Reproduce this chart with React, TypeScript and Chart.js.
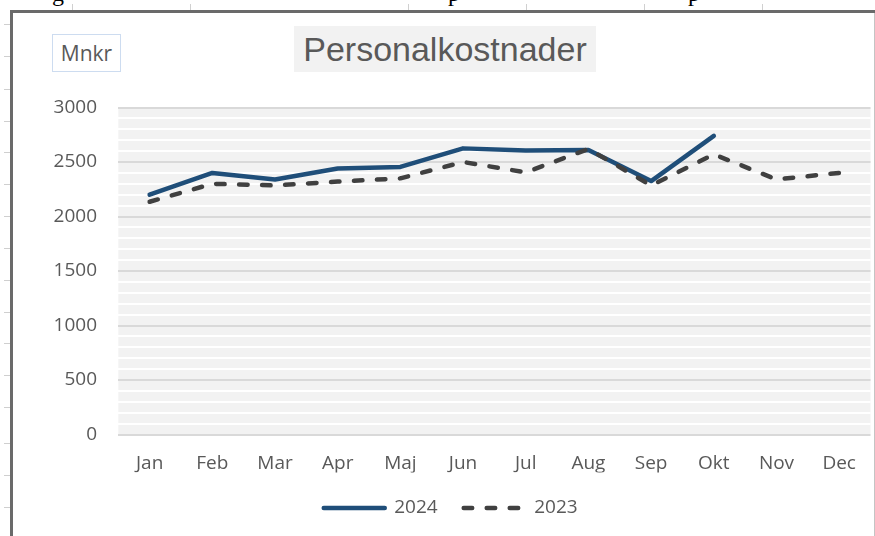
import React, { useEffect, useRef } from "react";
import { Chart, registerables } from "chart.js";

Chart.register(...registerables);

const months = ["Jan", "Feb", "Mar", "Apr", "Maj", "Jun", "Jul", "Aug", "Sep", "Okt", "Nov", "Dec"];
const values2024 = [2200, 2400, 2340, 2440, 2455, 2625, 2605, 2610, 2325, 2740, null, null];
const values2023 = [2135, 2300, 2285, 2320, 2350, 2500, 2405, 2620, 2285, 2570, 2340, 2400];
const seriesNames = ["2024", "2023"];
const yMin = 0;
const yMax = 3000;
const yMajorStep = 500;
const yMinorStep = 100;
const chartTitle = "Personalkostnader";
const unitLabel = "Mnkr";

const FONT = "'Open Sans', 'Noto Sans', sans-serif";
const TEXT = "#595959";

const plotBg = {
  id: "plotBg",
  beforeDraw(chart: any) {
    const { ctx, chartArea } = chart;
    if (!chartArea) return;
    ctx.save();
    ctx.fillStyle = "#f2f2f2";
    ctx.fillRect(chartArea.left, chartArea.top, chartArea.right - chartArea.left, chartArea.bottom - chartArea.top);
    ctx.restore();
  },
};

const leftRulerTicks = [24, 56, 89, 121, 152, 184, 216, 248, 280, 312, 343, 375, 407, 443, 475, 507];
const topRulerTicks = [72, 190, 408, 526, 644, 762];

export default function App() {
  const ref = useRef<HTMLCanvasElement | null>(null);

  useEffect(() => {
    if (!ref.current) return;
    const chart = new Chart(ref.current, {
      type: "line",
      data: {
        labels: months,
        datasets: [
          {
            label: seriesNames[0],
            data: values2024,
            borderColor: "#1f4e79",
            backgroundColor: "#1f4e79",
            borderWidth: 4.5,
            borderCapStyle: "round",
            borderJoinStyle: "round",
            pointRadius: 0,
            pointHoverRadius: 0,
            pointStyle: "line",
            tension: 0,
            spanGaps: false,
            order: 1,
          },
          {
            label: seriesNames[1],
            data: values2023,
            borderColor: "#404040",
            backgroundColor: "#404040",
            borderWidth: 4.5,
            borderDash: [8.5, 14.5],
            borderCapStyle: "round",
            borderJoinStyle: "round",
            pointRadius: 0,
            pointHoverRadius: 0,
            pointStyle: "line",
            tension: 0,
            order: 0,
          },
        ],
      } as any,
      options: {
        animation: false,
        responsive: false,
        maintainAspectRatio: false,
        events: [],
        layout: { padding: { top: 94.5, left: 15.4, right: 1, bottom: 8.5 } },
        plugins: {
          title: { display: false },
          tooltip: { enabled: false },
          legend: {
            display: true,
            position: "bottom",
            labels: {
              usePointStyle: true,
              pointStyle: "line",
              pointStyleWidth: 61,
              padding: 26,
              color: TEXT,
              font: { family: FONT, size: 19 },
              sort: (a: any, b: any) => a.datasetIndex - b.datasetIndex,
              generateLabels: (ch: any) => {
                const items = (Chart.defaults as any).plugins.legend.labels.generateLabels(ch);
                return items.map((it: any) => {
                  const ds = ch.data.datasets[it.datasetIndex];
                  return {
                    ...it,
                    strokeStyle: ds.borderColor,
                    fillStyle: ds.borderColor,
                    lineWidth: ds.borderWidth,
                    lineDash: ds.borderDash || [],
                    lineDashOffset: 0,
                    lineCap: "round",
                    lineJoin: "round",
                    pointStyle: "line",
                  };
                });
              },
            },
          },
        },
        scales: {
          x: {
            offset: true,
            grid: { display: false, drawTicks: false },
            border: { display: false },
            ticks: { color: TEXT, font: { family: FONT, size: 19 }, padding: 18, maxRotation: 0, autoSkip: false },
            afterFit: (scale: any) => {
              scale.height = 38;
            },
          },
          y: {
            min: yMin,
            max: yMax,
            border: { display: false },
            grid: {
              drawTicks: false,
              lineWidth: 2,
              color: (c: any) => (c.tick && c.tick.value % yMajorStep === 0 ? "#d9d9d9" : "#ffffff"),
            },
            ticks: {
              stepSize: yMinorStep,
              autoSkip: false,
              color: TEXT,
              padding: 21.3,
              font: { family: FONT, size: 19 },
              callback: (v: any) => (Number(v) % yMajorStep === 0 ? String(v) : ""),
            },
            afterFit: (scale: any) => {
              scale.width = 89.9;
            },
          },
        },
      } as any,
      plugins: [plotBg],
    });
    return () => chart.destroy();
  }, []);

  return (
    <div style={{ position: "fixed", left: 0, top: 0, width: 875, height: 536, overflow: "hidden", background: "#fff" }}>
      <div style={{ position: "absolute", left: 0, top: 0, width: 875, height: 10, overflow: "hidden" }}>
        {[
          ["g", 52],
          ["p", 448],
          ["p", 688],
        ].map(([ch, x], i) => (
          <span
            key={i}
            style={{
              position: "absolute",
              left: x as number,
              top: -19,
              fontFamily: "'Liberation Serif', 'DejaVu Serif', serif",
              fontSize: 24,
              lineHeight: "24px",
              color: "#000",
            }}
          >
            {ch}
          </span>
        ))}
        {topRulerTicks.map((x, i) => (
          <div key={i} style={{ position: "absolute", left: x, top: 4, width: 1, height: 6, background: "#d0d0d0" }} />
        ))}
      </div>
      {leftRulerTicks.map((y, i) => (
        <div key={i} style={{ position: "absolute", left: 4, top: y, width: 6, height: 1, background: "#cfcfcf" }} />
      ))}
      <div style={{ position: "absolute", left: 10, top: 10, width: 865, height: 3, background: "#6a6a6a" }} />
      <div style={{ position: "absolute", left: 10, top: 10, width: 3, height: 526, background: "#6a6a6a" }} />
      <div style={{ position: "absolute", left: 874, top: 13, width: 1, height: 523, background: "#c4c4c4" }} />
      <div style={{ position: "absolute", left: 13, top: 13, width: 861, height: 523 }}>
        <canvas ref={ref} width={861} height={523} style={{ width: 861, height: 523, display: "block" }} />
      </div>
      <div
        style={{
          position: "absolute",
          left: 52,
          top: 34,
          width: 67,
          height: 36,
          border: "1px solid #cddcf0",
          display: "flex",
          alignItems: "center",
          justifyContent: "center",
          fontFamily: FONT,
          fontSize: 21,
          color: TEXT,
          background: "#fff",
        }}
      >
        {unitLabel}
      </div>
      <div
        style={{
          position: "absolute",
          left: 294,
          top: 26,
          width: 302,
          height: 46,
          background: "#f2f2f2",
          display: "flex",
          alignItems: "center",
          justifyContent: "center",
          fontFamily: "'Liberation Sans', Arial, sans-serif",
          fontSize: 34,
          color: TEXT,
          whiteSpace: "nowrap",
        }}
      >
        {chartTitle}
      </div>
    </div>
  );
}
